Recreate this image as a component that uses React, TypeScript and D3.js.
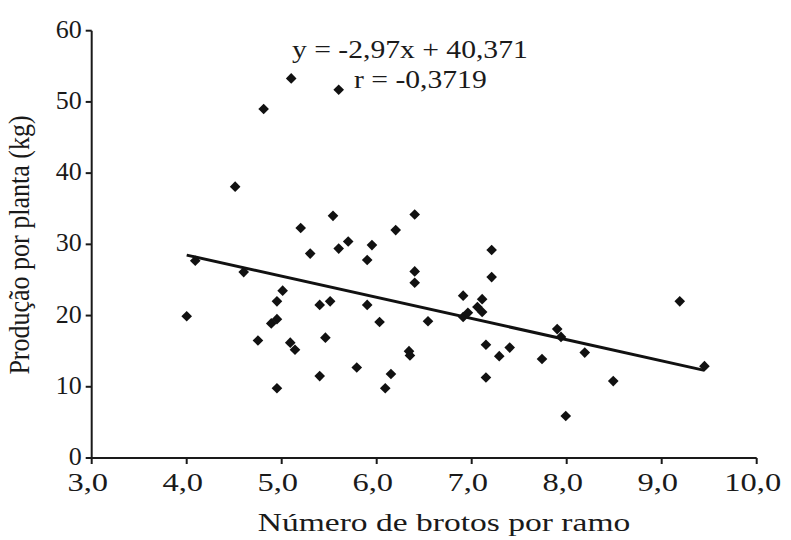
import React from "react";
import * as d3 from "d3";

const xValues: number[] = [
  4.0, 4.09, 4.51, 4.6, 4.75, 4.81, 4.89, 4.95, 4.95, 4.95, 5.01, 5.09, 5.1, 5.14, 5.2, 5.3,
  5.4, 5.4, 5.46, 5.51, 5.54, 5.6, 5.6, 5.7, 5.79, 5.9, 5.9, 5.95, 6.03, 6.09, 6.15, 6.2,
  6.34, 6.35, 6.4, 6.4, 6.4, 6.54, 6.91, 6.91, 6.96, 7.06, 7.11, 7.11, 7.15, 7.15, 7.21, 7.21,
  7.29, 7.4, 7.74, 7.9, 7.94, 7.99, 8.19, 8.49, 9.19, 9.45,
];
const yValues: number[] = [
  19.9, 27.7, 38.1, 26.1, 16.5, 49.0, 18.9, 19.5, 22.0, 9.8, 23.5, 16.2, 53.3, 15.2, 32.3, 28.7,
  11.5, 21.5, 16.9, 22.0, 34.0, 51.7, 29.4, 30.4, 12.7, 21.5, 27.8, 29.9, 19.1, 9.8, 11.8, 32.0,
  15.0, 14.4, 34.2, 26.2, 24.6, 19.2, 22.8, 19.8, 20.4, 21.2, 20.5, 22.3, 15.9, 11.3, 29.2, 25.4,
  14.3, 15.5, 13.9, 18.1, 17.0, 5.9, 14.8, 10.8, 22.0, 12.9,
];
const xTicks: number[] = [3, 4, 5, 6, 7, 8, 9, 10];
const yTicks: number[] = [0, 10, 20, 30, 40, 50, 60];
const slope = -2.97;
const intercept = 40.371;
const equationText = "y = -2,97x + 40,371";
const rText = "r = -0,3719";
const xTitle = "Número de brotos por ramo";
const yTitle = "Produção por planta (kg)";

const W = 791;
const H = 540;
const left = 91.7;
const right = 756.7;
const top = 30.7;
const bottom = 458;
const FONT = "'Liberation Serif', 'Times New Roman', serif";

export default function App() {
  const x = d3.scaleLinear().domain([3, 10]).range([left, right]);
  const y = d3.scaleLinear().domain([0, 60]).range([bottom, top]);
  const fmt = (v: number) => v.toFixed(1).replace(".", ",");
  const diamond = d3.symbol().type(d3.symbolDiamond2).size(72)();
  const x0 = d3.min(xValues)!;
  const x1 = d3.max(xValues)!;
  const line = d3.line<number>().x((d) => x(d)).y((d) => y(slope * d + intercept));

  const txt = (
    s: string,
    tx: number,
    ty: number,
    anchor: "start" | "middle" | "end",
    fs: number,
    sx: number,
    key?: string
  ) => (
    <text
      key={key}
      transform={`translate(${tx},${ty}) scale(${sx},1)`}
      textAnchor={anchor}
      fontFamily={FONT}
      fontSize={fs}
      fill="#1a1a1a"
    >
      {s}
    </text>
  );

  return (
    <div style={{ position: "absolute", left: 0, top: 0 }}>
      <svg width={W} height={H} style={{ display: "block", background: "#fff" }}>
        {/* axes */}
        <line x1={left} x2={right} y1={bottom} y2={bottom} stroke="#1a1a1a" strokeWidth={2} />
        <line x1={left} x2={left} y1={top} y2={bottom} stroke="#1a1a1a" strokeWidth={2} />
        {xTicks.map((t) => (
          <line key={"xt" + t} x1={x(t)} x2={x(t)} y1={bottom} y2={bottom + 6} stroke="#1a1a1a" strokeWidth={2} />
        ))}
        {yTicks.map((t) => (
          <line key={"yt" + t} x1={left - 6} x2={left} y1={y(t)} y2={y(t)} stroke="#1a1a1a" strokeWidth={2} />
        ))}
        {xTicks.map((t) => txt(fmt(t), x(t) - 4, 491, "middle", 25, 1.3, "xl" + t))}
        {yTicks.map((t) => txt(String(t), left - 10, y(t) + 7, "end", 26, 1.0, "yl" + t))}
        {/* regression line */}
        <path d={line([x0, x1]) || ""} fill="none" stroke="#111" strokeWidth={3} />
        {/* points */}
        {xValues.map((v, i) => (
          <path key={"p" + i} d={diamond || ""} transform={`translate(${x(v)},${y(yValues[i])})`} fill="#111" />
        ))}
        {txt(equationText, 292, 58, "start", 26, 1.14)}
        {txt(rText, 354, 88, "start", 26, 1.14)}
        {txt(xTitle, 444, 531, "middle", 26, 1.29)}
        <text
          transform={`translate(29,245) scale(1.1,1) rotate(-90)`}
          textAnchor="middle"
          fontFamily={FONT}
          fontSize={26}
          fill="#1a1a1a"
        >
          {yTitle}
        </text>
      </svg>
    </div>
  );
}
